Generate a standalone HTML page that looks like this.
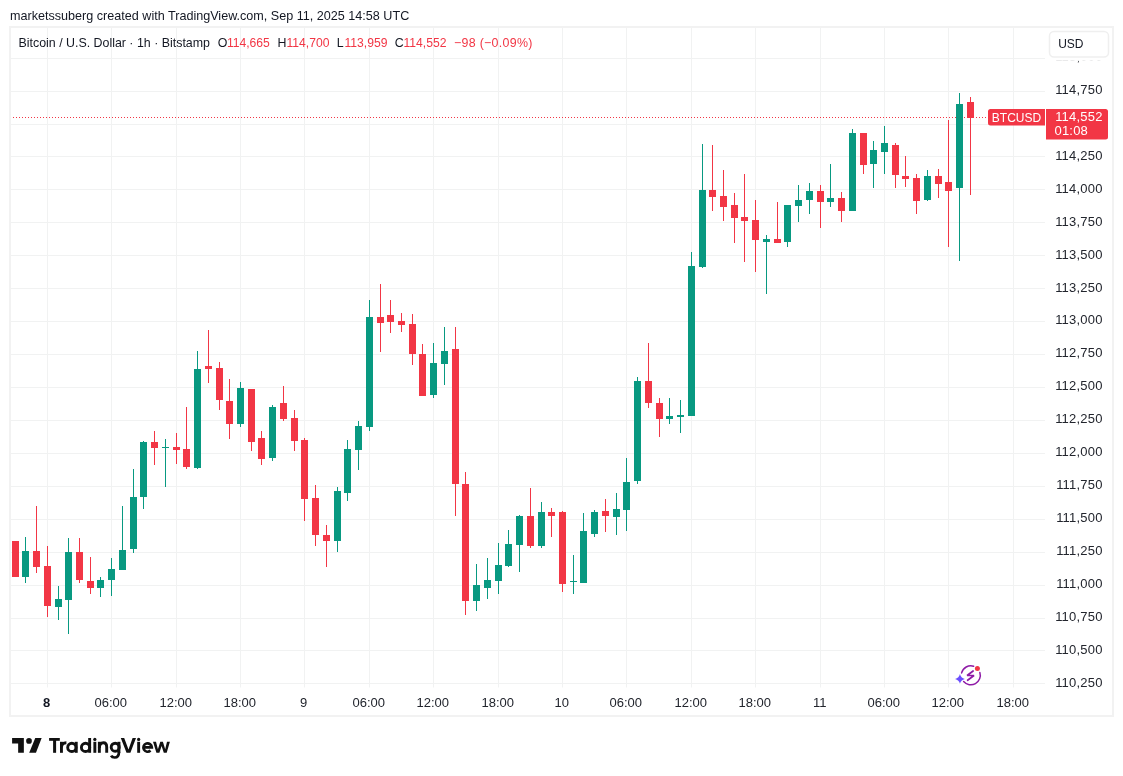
<!DOCTYPE html><html><head><meta charset="utf-8"><style>html,body{margin:0;padding:0;background:#fff;width:1123px;height:776px;overflow:hidden}svg{display:block;will-change:transform}text{font-family:"Liberation Sans",sans-serif}</style></head><body>
<svg width="1123" height="776" viewBox="0 0 1123 776">
<rect width="1123" height="776" fill="#fff"/>
<text x="10" y="19.9" font-size="12.6" fill="#131722">marketssuberg created with TradingView.com, Sep 11, 2025 14:58 UTC</text>
<rect x="10" y="27" width="1103" height="689" fill="none" stroke="#F2F2F2" stroke-width="2"/>
<line x1="11" x2="1045" y1="58.5" y2="58.5" stroke="#F1F2F2" stroke-width="1"/>
<line x1="11" x2="1045" y1="91.5" y2="91.5" stroke="#F1F2F2" stroke-width="1"/>
<line x1="11" x2="1045" y1="124.5" y2="124.5" stroke="#F1F2F2" stroke-width="1"/>
<line x1="11" x2="1045" y1="156.5" y2="156.5" stroke="#F1F2F2" stroke-width="1"/>
<line x1="11" x2="1045" y1="189.5" y2="189.5" stroke="#F1F2F2" stroke-width="1"/>
<line x1="11" x2="1045" y1="222.5" y2="222.5" stroke="#F1F2F2" stroke-width="1"/>
<line x1="11" x2="1045" y1="255.5" y2="255.5" stroke="#F1F2F2" stroke-width="1"/>
<line x1="11" x2="1045" y1="288.5" y2="288.5" stroke="#F1F2F2" stroke-width="1"/>
<line x1="11" x2="1045" y1="321.5" y2="321.5" stroke="#F1F2F2" stroke-width="1"/>
<line x1="11" x2="1045" y1="354.5" y2="354.5" stroke="#F1F2F2" stroke-width="1"/>
<line x1="11" x2="1045" y1="387.5" y2="387.5" stroke="#F1F2F2" stroke-width="1"/>
<line x1="11" x2="1045" y1="420.5" y2="420.5" stroke="#F1F2F2" stroke-width="1"/>
<line x1="11" x2="1045" y1="453.5" y2="453.5" stroke="#F1F2F2" stroke-width="1"/>
<line x1="11" x2="1045" y1="486.5" y2="486.5" stroke="#F1F2F2" stroke-width="1"/>
<line x1="11" x2="1045" y1="519.5" y2="519.5" stroke="#F1F2F2" stroke-width="1"/>
<line x1="11" x2="1045" y1="552.5" y2="552.5" stroke="#F1F2F2" stroke-width="1"/>
<line x1="11" x2="1045" y1="585.5" y2="585.5" stroke="#F1F2F2" stroke-width="1"/>
<line x1="11" x2="1045" y1="618.5" y2="618.5" stroke="#F1F2F2" stroke-width="1"/>
<line x1="11" x2="1045" y1="650.5" y2="650.5" stroke="#F1F2F2" stroke-width="1"/>
<line x1="11" x2="1045" y1="683.5" y2="683.5" stroke="#F1F2F2" stroke-width="1"/>
<line x1="47.5" x2="47.5" y1="28" y2="687.5" stroke="#F1F2F2" stroke-width="1"/>
<line x1="111.5" x2="111.5" y1="28" y2="687.5" stroke="#F1F2F2" stroke-width="1"/>
<line x1="176.5" x2="176.5" y1="28" y2="687.5" stroke="#F1F2F2" stroke-width="1"/>
<line x1="240.5" x2="240.5" y1="28" y2="687.5" stroke="#F1F2F2" stroke-width="1"/>
<line x1="304.5" x2="304.5" y1="28" y2="687.5" stroke="#F1F2F2" stroke-width="1"/>
<line x1="369.5" x2="369.5" y1="28" y2="687.5" stroke="#F1F2F2" stroke-width="1"/>
<line x1="433.5" x2="433.5" y1="28" y2="687.5" stroke="#F1F2F2" stroke-width="1"/>
<line x1="498.5" x2="498.5" y1="28" y2="687.5" stroke="#F1F2F2" stroke-width="1"/>
<line x1="562.5" x2="562.5" y1="28" y2="687.5" stroke="#F1F2F2" stroke-width="1"/>
<line x1="626.5" x2="626.5" y1="28" y2="687.5" stroke="#F1F2F2" stroke-width="1"/>
<line x1="691.5" x2="691.5" y1="28" y2="687.5" stroke="#F1F2F2" stroke-width="1"/>
<line x1="755.5" x2="755.5" y1="28" y2="687.5" stroke="#F1F2F2" stroke-width="1"/>
<line x1="820.5" x2="820.5" y1="28" y2="687.5" stroke="#F1F2F2" stroke-width="1"/>
<line x1="884.5" x2="884.5" y1="28" y2="687.5" stroke="#F1F2F2" stroke-width="1"/>
<line x1="948.5" x2="948.5" y1="28" y2="687.5" stroke="#F1F2F2" stroke-width="1"/>
<line x1="1013.5" x2="1013.5" y1="28" y2="687.5" stroke="#F1F2F2" stroke-width="1"/>
<text x="1102.6" y="60.96" font-size="13" letter-spacing="0.2" fill="#22252d" text-anchor="end">115,000</text>
<text x="1102.6" y="93.90" font-size="13" letter-spacing="0.2" fill="#22252d" text-anchor="end">114,750</text>
<text x="1102.6" y="159.78" font-size="13" letter-spacing="0.2" fill="#22252d" text-anchor="end">114,250</text>
<text x="1102.6" y="192.72" font-size="13" letter-spacing="0.2" fill="#22252d" text-anchor="end">114,000</text>
<text x="1102.6" y="225.66" font-size="13" letter-spacing="0.2" fill="#22252d" text-anchor="end">113,750</text>
<text x="1102.6" y="258.60" font-size="13" letter-spacing="0.2" fill="#22252d" text-anchor="end">113,500</text>
<text x="1102.6" y="291.54" font-size="13" letter-spacing="0.2" fill="#22252d" text-anchor="end">113,250</text>
<text x="1102.6" y="324.48" font-size="13" letter-spacing="0.2" fill="#22252d" text-anchor="end">113,000</text>
<text x="1102.6" y="357.42" font-size="13" letter-spacing="0.2" fill="#22252d" text-anchor="end">112,750</text>
<text x="1102.6" y="390.36" font-size="13" letter-spacing="0.2" fill="#22252d" text-anchor="end">112,500</text>
<text x="1102.6" y="423.30" font-size="13" letter-spacing="0.2" fill="#22252d" text-anchor="end">112,250</text>
<text x="1102.6" y="456.24" font-size="13" letter-spacing="0.2" fill="#22252d" text-anchor="end">112,000</text>
<text x="1102.6" y="489.18" font-size="13" letter-spacing="0.2" fill="#22252d" text-anchor="end">111,750</text>
<text x="1102.6" y="522.12" font-size="13" letter-spacing="0.2" fill="#22252d" text-anchor="end">111,500</text>
<text x="1102.6" y="555.06" font-size="13" letter-spacing="0.2" fill="#22252d" text-anchor="end">111,250</text>
<text x="1102.6" y="588.00" font-size="13" letter-spacing="0.2" fill="#22252d" text-anchor="end">111,000</text>
<text x="1102.6" y="620.94" font-size="13" letter-spacing="0.2" fill="#22252d" text-anchor="end">110,750</text>
<text x="1102.6" y="653.88" font-size="13" letter-spacing="0.2" fill="#22252d" text-anchor="end">110,500</text>
<text x="1102.6" y="686.82" font-size="13" letter-spacing="0.2" fill="#22252d" text-anchor="end">110,250</text>
<rect x="1046" y="28" width="66" height="32.9" fill="#fff"/>
<text x="46.70" y="706.9" font-size="13" fill="#131722" text-anchor="middle" font-weight="bold">8</text>
<text x="110.70" y="706.9" font-size="13" fill="#22252d" text-anchor="middle">06:00</text>
<text x="175.70" y="706.9" font-size="13" fill="#22252d" text-anchor="middle">12:00</text>
<text x="239.70" y="706.9" font-size="13" fill="#22252d" text-anchor="middle">18:00</text>
<text x="303.70" y="706.9" font-size="13" fill="#22252d" text-anchor="middle">9</text>
<text x="368.70" y="706.9" font-size="13" fill="#22252d" text-anchor="middle">06:00</text>
<text x="432.70" y="706.9" font-size="13" fill="#22252d" text-anchor="middle">12:00</text>
<text x="497.70" y="706.9" font-size="13" fill="#22252d" text-anchor="middle">18:00</text>
<text x="561.70" y="706.9" font-size="13" fill="#22252d" text-anchor="middle">10</text>
<text x="625.70" y="706.9" font-size="13" fill="#22252d" text-anchor="middle">06:00</text>
<text x="690.70" y="706.9" font-size="13" fill="#22252d" text-anchor="middle">12:00</text>
<text x="754.70" y="706.9" font-size="13" fill="#22252d" text-anchor="middle">18:00</text>
<text x="819.70" y="706.9" font-size="13" fill="#22252d" text-anchor="middle">11</text>
<text x="883.70" y="706.9" font-size="13" fill="#22252d" text-anchor="middle">06:00</text>
<text x="947.70" y="706.9" font-size="13" fill="#22252d" text-anchor="middle">12:00</text>
<text x="1012.70" y="706.9" font-size="13" fill="#22252d" text-anchor="middle">18:00</text>
<line x1="10" x2="988" y1="117.5" y2="117.5" stroke="#F23645" stroke-width="1" stroke-dasharray="1 2"/>
<rect x="15" y="541" width="1" height="36" fill="#F23645"/>
<rect x="12" y="541" width="7" height="36" fill="#F23645"/>
<rect x="25" y="537" width="1" height="46" fill="#089981"/>
<rect x="22" y="551" width="7" height="26" fill="#089981"/>
<rect x="36" y="506" width="1" height="67" fill="#F23645"/>
<rect x="33" y="551" width="7" height="16" fill="#F23645"/>
<rect x="47" y="546" width="1" height="71" fill="#F23645"/>
<rect x="44" y="566" width="7" height="40" fill="#F23645"/>
<rect x="58" y="586" width="1" height="34" fill="#089981"/>
<rect x="55" y="599" width="7" height="8" fill="#089981"/>
<rect x="68" y="538" width="1" height="96" fill="#089981"/>
<rect x="65" y="552" width="7" height="48" fill="#089981"/>
<rect x="79" y="538" width="1" height="45" fill="#F23645"/>
<rect x="76" y="552" width="7" height="28" fill="#F23645"/>
<rect x="90" y="557" width="1" height="37" fill="#F23645"/>
<rect x="87" y="581" width="7" height="7" fill="#F23645"/>
<rect x="100" y="577" width="1" height="20" fill="#089981"/>
<rect x="97" y="580" width="7" height="8" fill="#089981"/>
<rect x="111" y="558" width="1" height="38" fill="#089981"/>
<rect x="108" y="569" width="7" height="11" fill="#089981"/>
<rect x="122" y="506" width="1" height="64" fill="#089981"/>
<rect x="119" y="550" width="7" height="20" fill="#089981"/>
<rect x="133" y="469" width="1" height="84" fill="#089981"/>
<rect x="130" y="497" width="7" height="52" fill="#089981"/>
<rect x="143" y="441" width="1" height="68" fill="#089981"/>
<rect x="140" y="442" width="7" height="55" fill="#089981"/>
<rect x="154" y="431" width="1" height="34" fill="#F23645"/>
<rect x="151" y="442" width="7" height="6" fill="#F23645"/>
<rect x="165" y="439" width="1" height="48" fill="#089981"/>
<rect x="162" y="447" width="7" height="1" fill="#089981"/>
<rect x="176" y="433" width="1" height="31" fill="#F23645"/>
<rect x="173" y="447" width="7" height="3" fill="#F23645"/>
<rect x="186" y="407" width="1" height="62" fill="#F23645"/>
<rect x="183" y="449" width="7" height="18" fill="#F23645"/>
<rect x="197" y="351" width="1" height="118" fill="#089981"/>
<rect x="194" y="369" width="7" height="99" fill="#089981"/>
<rect x="208" y="330" width="1" height="53" fill="#F23645"/>
<rect x="205" y="366" width="7" height="3" fill="#F23645"/>
<rect x="219" y="362" width="1" height="48" fill="#F23645"/>
<rect x="216" y="368" width="7" height="32" fill="#F23645"/>
<rect x="229" y="379" width="1" height="60" fill="#F23645"/>
<rect x="226" y="401" width="7" height="23" fill="#F23645"/>
<rect x="240" y="382" width="1" height="45" fill="#089981"/>
<rect x="237" y="388" width="7" height="36" fill="#089981"/>
<rect x="251" y="389" width="1" height="62" fill="#F23645"/>
<rect x="248" y="389" width="7" height="53" fill="#F23645"/>
<rect x="261" y="431" width="1" height="34" fill="#F23645"/>
<rect x="258" y="438" width="7" height="21" fill="#F23645"/>
<rect x="272" y="405" width="1" height="56" fill="#089981"/>
<rect x="269" y="407" width="7" height="51" fill="#089981"/>
<rect x="283" y="386" width="1" height="35" fill="#F23645"/>
<rect x="280" y="403" width="7" height="16" fill="#F23645"/>
<rect x="294" y="410" width="1" height="41" fill="#F23645"/>
<rect x="291" y="418" width="7" height="23" fill="#F23645"/>
<rect x="304" y="438" width="1" height="83" fill="#F23645"/>
<rect x="301" y="440" width="7" height="59" fill="#F23645"/>
<rect x="315" y="485" width="1" height="61" fill="#F23645"/>
<rect x="312" y="498" width="7" height="37" fill="#F23645"/>
<rect x="326" y="525" width="1" height="42" fill="#F23645"/>
<rect x="323" y="535" width="7" height="6" fill="#F23645"/>
<rect x="337" y="487" width="1" height="65" fill="#089981"/>
<rect x="334" y="491" width="7" height="50" fill="#089981"/>
<rect x="347" y="440" width="1" height="61" fill="#089981"/>
<rect x="344" y="449" width="7" height="44" fill="#089981"/>
<rect x="358" y="421" width="1" height="49" fill="#089981"/>
<rect x="355" y="426" width="7" height="24" fill="#089981"/>
<rect x="369" y="300" width="1" height="131" fill="#089981"/>
<rect x="366" y="317" width="7" height="110" fill="#089981"/>
<rect x="380" y="284" width="1" height="68" fill="#F23645"/>
<rect x="377" y="317" width="7" height="6" fill="#F23645"/>
<rect x="390" y="300" width="1" height="33" fill="#F23645"/>
<rect x="387" y="315" width="7" height="7" fill="#F23645"/>
<rect x="401" y="313" width="1" height="19" fill="#F23645"/>
<rect x="398" y="321" width="7" height="4" fill="#F23645"/>
<rect x="412" y="314" width="1" height="51" fill="#F23645"/>
<rect x="409" y="324" width="7" height="30" fill="#F23645"/>
<rect x="422" y="344" width="1" height="52" fill="#F23645"/>
<rect x="419" y="354" width="7" height="42" fill="#F23645"/>
<rect x="433" y="343" width="1" height="55" fill="#089981"/>
<rect x="430" y="363" width="7" height="32" fill="#089981"/>
<rect x="444" y="327" width="1" height="58" fill="#089981"/>
<rect x="441" y="351" width="7" height="13" fill="#089981"/>
<rect x="455" y="327" width="1" height="189" fill="#F23645"/>
<rect x="452" y="349" width="7" height="135" fill="#F23645"/>
<rect x="465" y="472" width="1" height="143" fill="#F23645"/>
<rect x="462" y="484" width="7" height="117" fill="#F23645"/>
<rect x="476" y="564" width="1" height="47" fill="#089981"/>
<rect x="473" y="585" width="7" height="16" fill="#089981"/>
<rect x="487" y="558" width="1" height="41" fill="#089981"/>
<rect x="484" y="580" width="7" height="8" fill="#089981"/>
<rect x="498" y="543" width="1" height="51" fill="#089981"/>
<rect x="495" y="565" width="7" height="16" fill="#089981"/>
<rect x="508" y="530" width="1" height="37" fill="#089981"/>
<rect x="505" y="544" width="7" height="22" fill="#089981"/>
<rect x="519" y="515" width="1" height="57" fill="#089981"/>
<rect x="516" y="516" width="7" height="29" fill="#089981"/>
<rect x="530" y="488" width="1" height="60" fill="#F23645"/>
<rect x="527" y="516" width="7" height="30" fill="#F23645"/>
<rect x="541" y="502" width="1" height="46" fill="#089981"/>
<rect x="538" y="512" width="7" height="34" fill="#089981"/>
<rect x="551" y="508" width="1" height="29" fill="#F23645"/>
<rect x="548" y="512" width="7" height="4" fill="#F23645"/>
<rect x="562" y="511" width="1" height="81" fill="#F23645"/>
<rect x="559" y="512" width="7" height="72" fill="#F23645"/>
<rect x="573" y="555" width="1" height="39" fill="#089981"/>
<rect x="570" y="581" width="7" height="1" fill="#089981"/>
<rect x="583" y="513" width="1" height="70" fill="#089981"/>
<rect x="580" y="531" width="7" height="52" fill="#089981"/>
<rect x="594" y="510" width="1" height="27" fill="#089981"/>
<rect x="591" y="512" width="7" height="22" fill="#089981"/>
<rect x="605" y="499" width="1" height="33" fill="#F23645"/>
<rect x="602" y="511" width="7" height="5" fill="#F23645"/>
<rect x="616" y="493" width="1" height="42" fill="#089981"/>
<rect x="613" y="509" width="7" height="8" fill="#089981"/>
<rect x="626" y="458" width="1" height="73" fill="#089981"/>
<rect x="623" y="482" width="7" height="28" fill="#089981"/>
<rect x="637" y="377" width="1" height="107" fill="#089981"/>
<rect x="634" y="381" width="7" height="100" fill="#089981"/>
<rect x="648" y="343" width="1" height="65" fill="#F23645"/>
<rect x="645" y="381" width="7" height="22" fill="#F23645"/>
<rect x="659" y="398" width="1" height="39" fill="#F23645"/>
<rect x="656" y="403" width="7" height="16" fill="#F23645"/>
<rect x="669" y="398" width="1" height="26" fill="#089981"/>
<rect x="666" y="416" width="7" height="3" fill="#089981"/>
<rect x="680" y="400" width="1" height="33" fill="#089981"/>
<rect x="677" y="415" width="7" height="2" fill="#089981"/>
<rect x="691" y="252" width="1" height="164" fill="#089981"/>
<rect x="688" y="266" width="7" height="150" fill="#089981"/>
<rect x="702" y="144" width="1" height="124" fill="#089981"/>
<rect x="699" y="190" width="7" height="77" fill="#089981"/>
<rect x="712" y="145" width="1" height="66" fill="#F23645"/>
<rect x="709" y="190" width="7" height="7" fill="#F23645"/>
<rect x="723" y="170" width="1" height="51" fill="#F23645"/>
<rect x="720" y="196" width="7" height="11" fill="#F23645"/>
<rect x="734" y="193" width="1" height="50" fill="#F23645"/>
<rect x="731" y="205" width="7" height="13" fill="#F23645"/>
<rect x="744" y="174" width="1" height="88" fill="#F23645"/>
<rect x="741" y="217" width="7" height="4" fill="#F23645"/>
<rect x="755" y="200" width="1" height="72" fill="#F23645"/>
<rect x="752" y="220" width="7" height="20" fill="#F23645"/>
<rect x="766" y="235" width="1" height="59" fill="#089981"/>
<rect x="763" y="239" width="7" height="3" fill="#089981"/>
<rect x="777" y="202" width="1" height="41" fill="#F23645"/>
<rect x="774" y="239" width="7" height="4" fill="#F23645"/>
<rect x="787" y="205" width="1" height="42" fill="#089981"/>
<rect x="784" y="205" width="7" height="37" fill="#089981"/>
<rect x="798" y="185" width="1" height="37" fill="#089981"/>
<rect x="795" y="200" width="7" height="6" fill="#089981"/>
<rect x="809" y="183" width="1" height="31" fill="#089981"/>
<rect x="806" y="191" width="7" height="9" fill="#089981"/>
<rect x="820" y="185" width="1" height="43" fill="#F23645"/>
<rect x="817" y="191" width="7" height="11" fill="#F23645"/>
<rect x="830" y="164" width="1" height="43" fill="#089981"/>
<rect x="827" y="198" width="7" height="4" fill="#089981"/>
<rect x="841" y="192" width="1" height="30" fill="#F23645"/>
<rect x="838" y="198" width="7" height="13" fill="#F23645"/>
<rect x="852" y="129" width="1" height="82" fill="#089981"/>
<rect x="849" y="133" width="7" height="78" fill="#089981"/>
<rect x="863" y="133" width="1" height="41" fill="#F23645"/>
<rect x="860" y="133" width="7" height="32" fill="#F23645"/>
<rect x="873" y="141" width="1" height="47" fill="#089981"/>
<rect x="870" y="150" width="7" height="14" fill="#089981"/>
<rect x="884" y="126" width="1" height="48" fill="#089981"/>
<rect x="881" y="143" width="7" height="9" fill="#089981"/>
<rect x="895" y="143" width="1" height="45" fill="#F23645"/>
<rect x="892" y="145" width="7" height="30" fill="#F23645"/>
<rect x="905" y="156" width="1" height="31" fill="#F23645"/>
<rect x="902" y="176" width="7" height="3" fill="#F23645"/>
<rect x="916" y="174" width="1" height="40" fill="#F23645"/>
<rect x="913" y="178" width="7" height="23" fill="#F23645"/>
<rect x="927" y="170" width="1" height="31" fill="#089981"/>
<rect x="924" y="176" width="7" height="24" fill="#089981"/>
<rect x="938" y="169" width="1" height="29" fill="#F23645"/>
<rect x="935" y="176" width="7" height="8" fill="#F23645"/>
<rect x="948" y="120" width="1" height="127" fill="#F23645"/>
<rect x="945" y="182" width="7" height="9" fill="#F23645"/>
<rect x="959" y="93" width="1" height="168" fill="#089981"/>
<rect x="956" y="104" width="7" height="84" fill="#089981"/>
<rect x="970" y="97" width="1" height="98" fill="#F23645"/>
<rect x="967" y="102" width="7" height="16" fill="#F23645"/>
<rect x="0" y="28" width="9" height="688" fill="#fff"/>
<rect x="9" y="26" width="2" height="691" fill="#F2F2F2"/>
<text y="47" font-size="12.4" fill="#131722"><tspan x="18.5">Bitcoin / U.S. Dollar · 1h · Bitstamp</tspan></text>
<text x="217.7" y="47" font-size="12.4" fill="#131722">O</text>
<text x="226.9" y="47" font-size="12.15" fill="#F23645">114,665</text>
<text x="277.5" y="47" font-size="12.4" fill="#131722">H</text>
<text x="286.5" y="47" font-size="12.15" fill="#F23645">114,700</text>
<text x="336.8" y="47" font-size="12.4" fill="#131722">L</text>
<text x="344.5" y="47" font-size="12.15" fill="#F23645">113,959</text>
<text x="394.7" y="47" font-size="12.4" fill="#131722">C</text>
<text x="403.5" y="47" font-size="12.15" fill="#F23645">114,552</text>
<text x="454" y="47" font-size="12.4" letter-spacing="0.3" fill="#F23645">−98 (−0.09%)</text>
<rect x="1049.5" y="31.5" width="59" height="25.5" rx="4.5" fill="#fff" stroke="#EFEFEF" stroke-width="1.5"/>
<text x="1058.2" y="48" font-size="12" fill="#131722">USD</text>
<path d="M990.5 109.1 H1045 V125.6 H990.5 A2.5 2.5 0 0 1 988 123.1 V111.6 A2.5 2.5 0 0 1 990.5 109.1 Z" fill="#F23645"/>
<text x="1016.5" y="121.7" font-size="12" fill="#fff" text-anchor="middle">BTCUSD</text>
<path d="M1046 109.1 H1105.5 A2.5 2.5 0 0 1 1108 111.6 V137 A2.5 2.5 0 0 1 1105.5 139.5 H1046 Z" fill="#F23645"/>
<text x="1102.6" y="120.6" font-size="13" letter-spacing="0.2" fill="#fff" text-anchor="end">114,552</text>
<text x="1054.5" y="134.8" font-size="13" letter-spacing="0.2" fill="#fff">01:08</text>
<g fill="none" stroke="#fff" stroke-width="5" stroke-linecap="round"><path d="M 961.6 672.9 A 9.5 9.5 0 0 1 973.6 666.2"/><path d="M 979.86 672.44 A 9.5 9.5 0 0 1 963.63 681.53"/></g>
<path d="M 959.95 674.0 Q 960.85 678.0 964.85 678.9 Q 960.85 679.8 959.95 683.8 Q 959.0500000000001 679.8 955.0500000000001 678.9 Q 959.0500000000001 678.0 959.95 674.0 Z" fill="#fff" stroke="#fff" stroke-width="4" stroke-linejoin="round"/>
<g fill="none" stroke="#8E1AA6" stroke-width="1.5" stroke-linecap="round"><path d="M 961.6 672.9 A 9.5 9.5 0 0 1 973.6 666.2"/><path d="M 979.86 672.44 A 9.5 9.5 0 0 1 963.63 681.53"/></g>
<path d="M 973.1 671 L 967.1 675.5 L 974 675.5 L 967.6 680.3" fill="none" stroke="#8E1AA6" stroke-width="1.7" stroke-linejoin="bevel" stroke-linecap="round"/>
<circle cx="977.4" cy="668.4" r="2.5" fill="#F23645"/>
<path d="M 959.95 674.0 Q 960.85 678.0 964.85 678.9 Q 960.85 679.8 959.95 683.8 Q 959.0500000000001 679.8 955.0500000000001 678.9 Q 959.0500000000001 678.0 959.95 674.0 Z" fill="#6B4EFF"/>
<g fill="#111"><path d="M12.1 738.06H23.85V752.66H18.15V743.58H12.1Z"/><circle cx="29" cy="740.9" r="2.85"/><path d="M35.25 738.06H41.66L35.96 752.66H29.2Z"/></g>
<g fill="#111"><rect x="49.1" y="738" width="10.7" height="2.8"/><rect x="53.1" y="738" width="3.0" height="14.8"/><rect x="60" y="741.8" width="2.9" height="11"/><path d="M61.45 747.6 C61.45 744 63.2 742.75 66.4 742.75" fill="none" stroke="#111" stroke-width="2.9"/><circle cx="71.85" cy="747.4" r="4.15" fill="none" stroke="#111" stroke-width="2.9"/><rect x="74.8" y="741.8" width="2.9" height="11"/><circle cx="85.55" cy="747.4" r="4.15" fill="none" stroke="#111" stroke-width="2.9"/><rect x="88.2" y="738" width="2.9" height="14.8"/><rect x="93.4" y="741.8" width="2.9" height="11"/><circle cx="94.85" cy="739.4" r="1.65"/><rect x="97.9" y="741.8" width="2.9" height="11"/><path d="M99.35 748 C99.35 744.2 101.2 742.75 103.4 742.75 C105.7 742.75 106.7 744.2 106.7 747.2 V752.8" fill="none" stroke="#111" stroke-width="2.9"/><circle cx="115.2" cy="747.2" r="4.0" fill="none" stroke="#111" stroke-width="2.9"/><rect x="117.5" y="741.8" width="2.9" height="11"/><path d="M118.95 752 C118.95 755.8 117 757.5 114.7 757.5 C112.8 757.5 111.6 756.6 111.1 755.6" fill="none" stroke="#111" stroke-width="2.7"/><path d="M120.8 738 H124.2 L128.5 749.4 L132.6 738 H136 L130.4 752.8 H126.5 Z"/><rect x="137.2" y="741.8" width="2.9" height="11"/><circle cx="138.65" cy="739.4" r="1.65"/><path d="M143.6 747.3 H151.8 A4.2 4.2 0 1 0 150.5 750.6" fill="none" stroke="#111" stroke-width="2.7"/><path d="M153.0 741.8 H156.0 L157.9 749.3 L160.3 741.8 H162.9 L165.2 749.3 L167.0 741.8 H169.9 L166.7 752.8 H163.8 L161.6 745.9 L159.4 752.8 H156.4 Z"/></g>
</svg></body></html>
